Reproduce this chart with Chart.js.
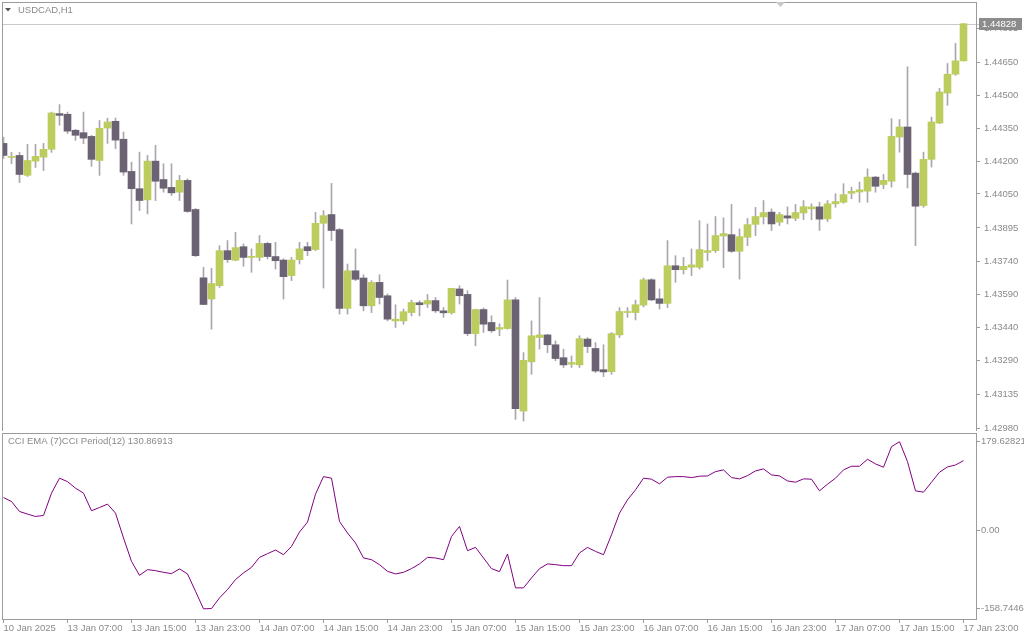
<!DOCTYPE html>
<html>
<head>
<meta charset="utf-8">
<title>USDCAD,H1</title>
<script src="https://cdn.jsdelivr.net/npm/chart.js@4.4.1/dist/chart.umd.min.js"></script>
<style>
  html, body { margin: 0; padding: 0; background: #ffffff; }
  #wrap { position: relative; width: 1024px; height: 640px; overflow: hidden; background: #ffffff; }
  #priceChart { position: absolute; left: 0; top: 0; }
  #cciChart { position: absolute; left: 0; top: 431px; }
</style>
</head>
<body>
<div id="wrap">
  <canvas id="priceChart" width="1024" height="431"></canvas>
  <canvas id="cciChart" width="1024" height="209"></canvas>
</div>
<script>
// USDCAD H1 bars, 10 Jan 23:00 .. 17 Jan 23:00
const opens = [
  1.44281, 1.44217, 1.44226, 1.44135, 1.44200, 1.44218, 1.44254, 1.44417, 1.44414, 1.44341,
  1.44330, 1.44313, 1.44203, 1.44351, 1.44382, 1.44300, 1.44153, 1.44074, 1.44023, 1.44200,
  1.44116, 1.44080, 1.44058, 1.44112, 1.43979, 1.43667, 1.43570, 1.43631, 1.43791, 1.43747,
  1.43809, 1.43760, 1.43760, 1.43824, 1.43764, 1.43748, 1.43677, 1.43750, 1.43809, 1.43796,
  1.43916, 1.43956, 1.43887, 1.43527, 1.43699, 1.43666, 1.43539, 1.43646, 1.43585, 1.43470,
  1.43470, 1.43508, 1.43553, 1.43547, 1.43563, 1.43516, 1.43507, 1.43616, 1.43591, 1.43412,
  1.43522, 1.43463, 1.43432, 1.43435, 1.43566, 1.43058, 1.43283, 1.43394, 1.43406, 1.43361,
  1.43302, 1.43272, 1.43269, 1.43387, 1.43344, 1.43247, 1.43238, 1.43406, 1.43508, 1.43508,
  1.43542, 1.43658, 1.43571, 1.43550, 1.43722, 1.43704, 1.43715, 1.43715, 1.43783, 1.43791,
  1.43858, 1.43864, 1.43788, 1.43852, 1.43911, 1.43945, 1.43967, 1.43921, 1.43950, 1.43939,
  1.43963, 1.43982, 1.43991, 1.43936, 1.44005, 1.44012, 1.44053, 1.44059, 1.44063, 1.44127,
  1.44093, 1.44108, 1.44310, 1.44356, 1.44145, 1.43997, 1.44208, 1.44374, 1.44511, 1.44597,
  1.44658
];
const highs = [
  1.44309, 1.44240, 1.44240, 1.44277, 1.44277, 1.44281, 1.44424, 1.44458, 1.44424, 1.44345,
  1.44424, 1.44318, 1.44386, 1.44396, 1.44397, 1.44333, 1.44195, 1.44241, 1.44226, 1.44272,
  1.44188, 1.44188, 1.44135, 1.44119, 1.43983, 1.43715, 1.43710, 1.43814, 1.43837, 1.43875,
  1.43822, 1.43799, 1.43860, 1.43829, 1.43829, 1.43754, 1.43760, 1.43829, 1.43829, 1.43966,
  1.43974, 1.44098, 1.43892, 1.43730, 1.43799, 1.43681, 1.43654, 1.43681, 1.43593, 1.43544,
  1.43524, 1.43565, 1.43562, 1.43591, 1.43577, 1.43531, 1.43619, 1.43631, 1.43608, 1.43524,
  1.43529, 1.43493, 1.43457, 1.43657, 1.43577, 1.43325, 1.43470, 1.43577, 1.43409, 1.43379,
  1.43341, 1.43310, 1.43402, 1.43394, 1.43371, 1.43361, 1.43417, 1.43531, 1.43531, 1.43565,
  1.43666, 1.43663, 1.43616, 1.43837, 1.43768, 1.43760, 1.43799, 1.43928, 1.43913, 1.43947,
  1.43941, 1.44002, 1.43890, 1.43938, 1.43989, 1.44020, 1.43982, 1.43966, 1.43991, 1.44002,
  1.44020, 1.44005, 1.44012, 1.44020, 1.44051, 1.44097, 1.44081, 1.44104, 1.44165, 1.44130,
  1.44139, 1.44394, 1.44390, 1.44631, 1.44150, 1.44241, 1.44401, 1.44532, 1.44646, 1.44738,
  1.44828
];
const lows = [
  1.44212, 1.44189, 1.44102, 1.44130, 1.44171, 1.44157, 1.44240, 1.44364, 1.44326, 1.44295,
  1.44280, 1.44176, 1.44135, 1.44281, 1.44257, 1.44135, 1.43913, 1.43974, 1.43959, 1.44020,
  1.44058, 1.44043, 1.44020, 1.43966, 1.43764, 1.43544, 1.43432, 1.43623, 1.43737, 1.43745,
  1.43719, 1.43692, 1.43745, 1.43753, 1.43707, 1.43570, 1.43654, 1.43730, 1.43768, 1.43791,
  1.43620, 1.43837, 1.43501, 1.43501, 1.43654, 1.43516, 1.43508, 1.43547, 1.43470, 1.43440,
  1.43455, 1.43493, 1.43493, 1.43531, 1.43508, 1.43486, 1.43501, 1.43547, 1.43402, 1.43356,
  1.43417, 1.43417, 1.43402, 1.43432, 1.43020, 1.43012, 1.43226, 1.43341, 1.43325, 1.43288,
  1.43257, 1.43257, 1.43257, 1.43325, 1.43234, 1.43215, 1.43226, 1.43394, 1.43486, 1.43474,
  1.43534, 1.43562, 1.43524, 1.43531, 1.43646, 1.43684, 1.43677, 1.43707, 1.43745, 1.43783,
  1.43713, 1.43783, 1.43661, 1.43814, 1.43860, 1.43913, 1.43883, 1.43906, 1.43913, 1.43928,
  1.43933, 1.43932, 1.43883, 1.43924, 1.43989, 1.44008, 1.44028, 1.44012, 1.44012, 1.44058,
  1.44074, 1.44081, 1.44241, 1.44077, 1.43814, 1.43989, 1.44173, 1.44371, 1.44455, 1.44592,
  1.44657
];
const closes = [
  1.44226, 1.44219, 1.44139, 1.44203, 1.44222, 1.44254, 1.44420, 1.44409, 1.44337, 1.44318,
  1.44305, 1.44208, 1.44350, 1.44379, 1.44296, 1.44150, 1.44074, 1.44020, 1.44200, 1.44108,
  1.44076, 1.44055, 1.44112, 1.43970, 1.43768, 1.43545, 1.43641, 1.43791, 1.43750, 1.43805,
  1.43760, 1.43765, 1.43824, 1.43764, 1.43745, 1.43672, 1.43748, 1.43799, 1.43791, 1.43916,
  1.43951, 1.43883, 1.43527, 1.43699, 1.43660, 1.43539, 1.43646, 1.43577, 1.43478, 1.43478,
  1.43512, 1.43554, 1.43544, 1.43563, 1.43516, 1.43507, 1.43619, 1.43585, 1.43412, 1.43522,
  1.43455, 1.43425, 1.43440, 1.43566, 1.43069, 1.43290, 1.43402, 1.43406, 1.43361, 1.43298,
  1.43269, 1.43280, 1.43389, 1.43353, 1.43241, 1.43237, 1.43412, 1.43513, 1.43513, 1.43544,
  1.43658, 1.43566, 1.43550, 1.43722, 1.43704, 1.43719, 1.43726, 1.43796, 1.43791, 1.43860,
  1.43869, 1.43788, 1.43855, 1.43910, 1.43947, 1.43965, 1.43913, 1.43956, 1.43940, 1.43965,
  1.43992, 1.43991, 1.43935, 1.44005, 1.44015, 1.44047, 1.44062, 1.44069, 1.44127, 1.44085,
  1.44112, 1.44313, 1.44356, 1.44139, 1.43994, 1.44208, 1.44379, 1.44516, 1.44597, 1.44658,
  1.44828
];

// CCI EMA(7) of CCI(12), one value per bar
const cciValues = [
  66.6, 58.6, 38.4, 33.1, 28.3, 30.3, 75.5, 105.8, 98.9, 85.6,
  75.5, 39.8, 46.4, 53.3, 35.1, -15.3, -62.6, -90.9, -79.3, -81.4,
  -84.8, -87.4, -77.9, -88.0, -123.2, -158.7446, -158.1, -136.5, -119.7, -99.5,
  -86.0, -74.7, -54.5, -47.0, -39.6, -49.1, -32.3, -3.2, 17.0, 73.5,
  109.0, 105.8, 18.2, -5.2, -25.4, -55.7, -59.2, -69.3, -82.8, -88.0,
  -84.8, -77.3, -67.8, -54.5, -55.7, -59.2, -12.1, 8.1, -41.0, -34.3,
  -55.7, -77.3, -83.4, -47.6, -116.3, -116.3, -96.1, -77.3, -67.8, -69.3,
  -71.3, -71.3, -45.6, -34.3, -42.4, -49.1, -8.7, 35.1, 62.0, 82.2,
  105.8, 103.8, 94.3, 107.8, 109.0, 109.0, 107.0, 109.8, 110.4, 119.1,
  122.6, 107.0, 104.4, 111.0, 120.5, 124.6, 112.5, 110.4, 100.3, 97.7,
  104.4, 103.8, 80.2, 93.7, 105.8, 122.6, 130.0, 130.0, 144.2, 134.7,
  128.0, 169.6, 179.62821, 139.3, 80.2, 77.5, 97.7, 117.9, 128.6, 132.6,
  141.3
];

// axis labels
const timeLabels = [
  "10 Jan 2025", "13 Jan 07:00", "13 Jan 15:00", "13 Jan 23:00", "14 Jan 07:00",
  "14 Jan 15:00", "14 Jan 23:00", "15 Jan 07:00", "15 Jan 15:00", "15 Jan 23:00",
  "16 Jan 07:00", "16 Jan 15:00", "16 Jan 23:00", "17 Jan 07:00", "17 Jan 15:00",
  "17 Jan 23:00"
];
const labelStep = 8; // one time label every 8 bars
const priceTicks = [1.42980, 1.43135, 1.43290, 1.43440, 1.43590, 1.43740, 1.43895,
  1.44050, 1.44200, 1.44350, 1.44500, 1.44650, 1.44805];
const cciTicks = [179.62821, 0, -158.7446];
const cciTickLabels = ["179.62821", "0.00", "-158.7446"];

const symbolTitle = "USDCAD,H1";
const cciTitle = "CCI EMA (7)CCI Period(12) 130.86913";
const lastPrice = closes[closes.length - 1];

const BULL = '#bccd5e';
const BEAR = '#6b6373';
const WICK = '#aaa5ae';
const FRAME = '#9b9b9b';
const TEXT = '#8a8a8a';
const FONT = '"Liberation Sans", Arial, sans-serif';
const FONT_SIZE = 9.5;

// bars are 8px apart, first bar sits 1.5px inside the frame
const X_MIN = -0.1875;
const X_MAX = 121.5625;

// keep the plot box exactly where MT4 puts it
function fixWidth(s) {
  s.width = 48;
  s.paddingTop = 0;
  s.paddingBottom = 0;
  s.paddingLeft = 0;
  s.paddingRight = 0;
}

const framePlugin = {
  id: 'frame',
  afterDraw(chart) {
    const { ctx, chartArea: a } = chart;
    ctx.save();
    ctx.strokeStyle = FRAME;
    ctx.lineWidth = 1;
    ctx.strokeRect(a.left + 0.5, a.top + 0.5, a.right - a.left, a.bottom - a.top);
    ctx.restore();
  }
};

const priceDecor = {
  id: 'priceDecor',
  beforeDatasetsDraw(chart) {
    const { ctx, chartArea: a, scales: { y } } = chart;
    const py = Math.round(y.getPixelForValue(lastPrice)) + 0.5;
    ctx.save();
    ctx.strokeStyle = '#c9c9c9';
    ctx.lineWidth = 1;
    ctx.beginPath();
    ctx.moveTo(a.left, py);
    ctx.lineTo(a.right + 3, py);
    ctx.stroke();
    ctx.restore();
  },
  afterDraw(chart) {
    const { ctx, chartArea: a, scales: { y } } = chart;
    const py = Math.round(y.getPixelForValue(lastPrice));
    ctx.save();
    // current price box
    ctx.fillStyle = '#8c8c8c';
    ctx.fillRect(a.right + 3, py - 6, 43, 12);
    ctx.fillStyle = '#ffffff';
    ctx.font = FONT_SIZE + 'px ' + FONT;
    ctx.textBaseline = 'middle';
    ctx.fillText(lastPrice.toFixed(5), a.right + 6, py + 0.5);
    // symbol title
    ctx.fillStyle = '#5a5a5a';
    ctx.beginPath();
    ctx.moveTo(5, 8); ctx.lineTo(11, 8); ctx.lineTo(8, 11.5);
    ctx.closePath();
    ctx.fill();
    ctx.fillStyle = TEXT;
    ctx.fillText(symbolTitle, 18, 10);
    // shift marker
    ctx.fillStyle = '#c8c8c8';
    ctx.beginPath();
    ctx.moveTo(776, 2); ctx.lineTo(785, 2); ctx.lineTo(780.5, 7);
    ctx.closePath();
    ctx.fill();
    ctx.restore();
  }
};

const cciDecor = {
  id: 'cciDecor',
  afterDraw(chart) {
    const { ctx, chartArea: a } = chart;
    ctx.save();
    ctx.fillStyle = TEXT;
    ctx.font = FONT_SIZE + 'px ' + FONT;
    ctx.textBaseline = 'middle';
    ctx.fillText(cciTitle, a.left + 6, a.top + 8);
    ctx.restore();
  }
};

function renderPriceChart() {
  const idx = closes.map((c, i) => i);
  const bodies = idx.map(i => ({ x: i, y: [opens[i], closes[i]] }));
  const wicks = idx.map(i => ({ x: i, y: [lows[i], highs[i]] }));
  const bodyColors = idx.map(i => closes[i] >= opens[i] ? BULL : BEAR);

  new Chart(document.getElementById('priceChart'), {
    type: 'bar',
    data: {
      datasets: [
        { data: wicks, backgroundColor: WICK, barThickness: 1, grouped: false, order: 2 },
        { data: bodies, backgroundColor: bodyColors, barThickness: 7, minBarLength: 1, grouped: false, order: 1 }
      ]
    },
    options: {
      responsive: false,
      animation: false,
      events: [],
      layout: { autoPadding: false, padding: { left: 2, top: 2, right: 0, bottom: 0 } },
      plugins: { legend: { display: false }, tooltip: { enabled: false } },
      scales: {
        x: { type: 'linear', min: X_MIN, max: X_MAX, offset: false, grid: { offset: false }, display: false },
        y: {
          position: 'right',
          min: 1.42967,
          max: 1.44927,
          afterBuildTicks: s => { s.ticks = priceTicks.map(v => ({ value: v })); },
          afterFit: fixWidth,
          ticks: {
            autoSkip: false,
            padding: 4,
            color: TEXT,
            font: { family: FONT, size: FONT_SIZE },
            callback: v => v.toFixed(5)
          },
          grid: { drawOnChartArea: false, drawTicks: true, tickLength: 4, color: FRAME },
          border: { display: false }
        }
      }
    },
    plugins: [framePlugin, priceDecor]
  });
}

function renderCciChart() {
  const points = cciValues.map((v, i) => ({ x: i, y: v }));

  new Chart(document.getElementById('cciChart'), {
    type: 'line',
    data: {
      datasets: [{
        data: points,
        borderColor: '#800080',
        borderWidth: 1,
        pointRadius: 0,
        tension: 0,
        fill: false
      }]
    },
    options: {
      responsive: false,
      animation: false,
      events: [],
      layout: { autoPadding: false, padding: { left: 2, top: 2, right: 0, bottom: 0 } },
      plugins: { legend: { display: false }, tooltip: { enabled: false } },
      scales: {
        x: {
          type: 'linear',
          position: 'bottom',
          min: X_MIN,
          max: X_MAX,
          offset: false,
          afterBuildTicks: s => { s.ticks = timeLabels.map((t, k) => ({ value: k * labelStep })); },
          afterFit: s => { s.height = 21; s.paddingLeft = 0; s.paddingRight = 0; },
          ticks: {
            autoSkip: false,
            maxRotation: 0,
            minRotation: 0,
            align: 'start',
            padding: 0,
            color: TEXT,
            font: { family: FONT, size: FONT_SIZE },
            callback: v => timeLabels[Math.round(v / labelStep)]
          },
          grid: { drawOnChartArea: false, drawTicks: true, tickLength: 4, color: FRAME },
          border: { display: false }
        },
        y: {
          position: 'right',
          min: -179.3,
          max: 197.3,
          afterBuildTicks: s => { s.ticks = cciTicks.map(v => ({ value: v })); },
          afterFit: fixWidth,
          ticks: {
            autoSkip: false,
            padding: 1,
            color: TEXT,
            font: { family: FONT, size: FONT_SIZE },
            callback: (v, k) => cciTickLabels[k]
          },
          grid: { drawOnChartArea: false, drawTicks: true, tickLength: 4, color: FRAME },
          border: { display: false }
        }
      }
    },
    plugins: [framePlugin, cciDecor]
  });
}

document.addEventListener('DOMContentLoaded', () => {
  renderPriceChart();
  renderCciChart();
});
</script>
</body>
</html>
